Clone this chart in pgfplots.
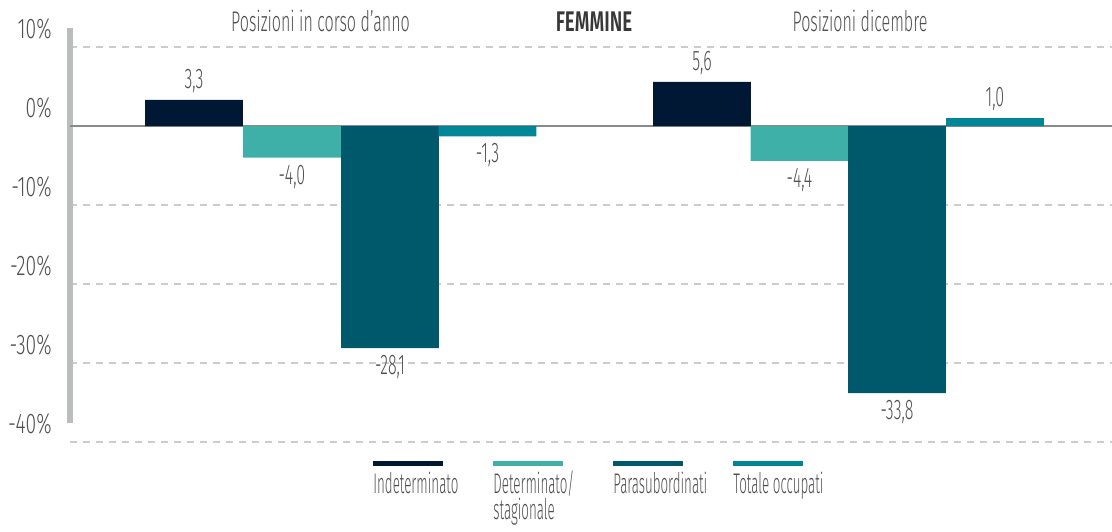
\documentclass[border=0pt]{standalone}
\usepackage{fontspec}
\setmainfont{Fira Sans Light}[FakeStretch=0.565, BoldFont={Fira Sans SemiBold}, BoldFeatures={FakeStretch=0.66}]
\newfontfamily\legfont{Fira Sans Light}[FakeStretch=0.47]
\newfontfamily\tickfont{Fira Sans Light}[FakeStretch=0.68]
\usepackage{pgfplots}
\pgfplotsset{compat=1.18}
\definecolor{cInd}{RGB}{1,24,52}
\definecolor{cDet}{RGB}{62,176,168}
\definecolor{cPar}{RGB}{0,88,107}
\definecolor{cTot}{RGB}{0,134,150}
\definecolor{txt}{RGB}{80,80,80}
\definecolor{barg}{RGB}{187,189,189}
\definecolor{gridg}{RGB}{204,204,204}
\definecolor{zerog}{RGB}{138,138,138}
\newcommand{\fs}{\fontsize{14.2}{10.5}\selectfont}
% legend key: a thick bar drawn above the text
\pgfplotsset{legbar/.style={legend image code/.code={\fill[#1,overlay] (0pt,13.5pt) rectangle (35pt,16pt);}}}

\begin{document}
\begin{tikzpicture}
\begin{axis}[
  x=0.5pt, y=3.95pt,
  xmin=70, xmax=1112, ymin=-41, ymax=12.4,
  axis y line*=left, axis x line=none,
  y axis line style={line width=3pt, barg, shorten <=13.5pt, -},
  ytick={-40,-30,-20,-10,0,10},
  yticklabels={-40\%,-30\%,-20\%,-10\%,0\%,10\%},
  major tick length=0pt,
  yticklabel style={font=\tickfont\fs, text=txt, anchor=base east, inner sep=0pt, yshift=4.5pt, xshift=-9pt},
  ymajorgrids,
  major grid style={gridg, dash pattern=on 3.5pt off 3pt, line width=0.6pt},
  extra y ticks={0}, extra y tick labels={},
  extra y tick style={major grid style={zerog, solid, line width=0.8pt}},
  xtick=\empty,
  clip=false,
  nodes near coords={\pgfmathprintnumber[fixed,fixed zerofill,precision=1,use comma,assume math mode=true]{\pgfplotspointmeta}},
  nodes near coords align={vertical},
  every node near coord/.append style={font=\fs, text=txt, inner sep=3.5pt},
  legend columns=4,
  legend style={at={(axis description cs:0.2908,0)}, anchor=north west, yshift=-10pt,
    draw=none, fill=none, column sep=0pt, inner sep=0pt,
    cells={anchor=base west},
    nodes={font=\legfont\fs, text=txt, inner sep=0pt, text width=60pt, align=flush left}},
]
\addplot[ybar, bar width=48.85pt, bar shift=0pt, fill=cInd, draw=none, legbar=cInd]
  coordinates {(194,3.3) (702,5.6)};
\addplot[ybar, bar width=48.85pt, bar shift=0pt, fill=cDet, draw=none, legbar=cDet]
  coordinates {(292,-4.0) (799.5,-4.4)};
\addplot[ybar, bar width=48.85pt, bar shift=0pt, fill=cPar, draw=none, legbar=cPar]
  coordinates {(390,-28.1) (897,-33.8)};
\addplot[ybar, bar width=48.85pt, bar shift=0pt, fill=cTot, draw=none, legbar=cTot]
  coordinates {(487.5,-1.3) (995,1.0)};
\legend{Indeterminato, {Determinato/\\stagionale}, Parasubordinati, Totale occupati}

\node[font=\fs, text=txt, anchor=base] at (axis cs:320.5,11.9) {Posizioni in corso d’anno};
\node[font=\fs\bfseries, text=txt!70!black, anchor=base] at (axis cs:594,11.9) {FEMMINE};
\node[font=\fs, text=txt, anchor=base] at (axis cs:860,11.9) {Posizioni dicembre};

\coordinate (tl) at (axis cs:0,15.95);
\coordinate (br) at (axis cs:1112,-51.3);
\end{axis}
\pgfresetboundingbox
\path[use as bounding box] (tl) rectangle (br);
\end{tikzpicture}
\end{document}
